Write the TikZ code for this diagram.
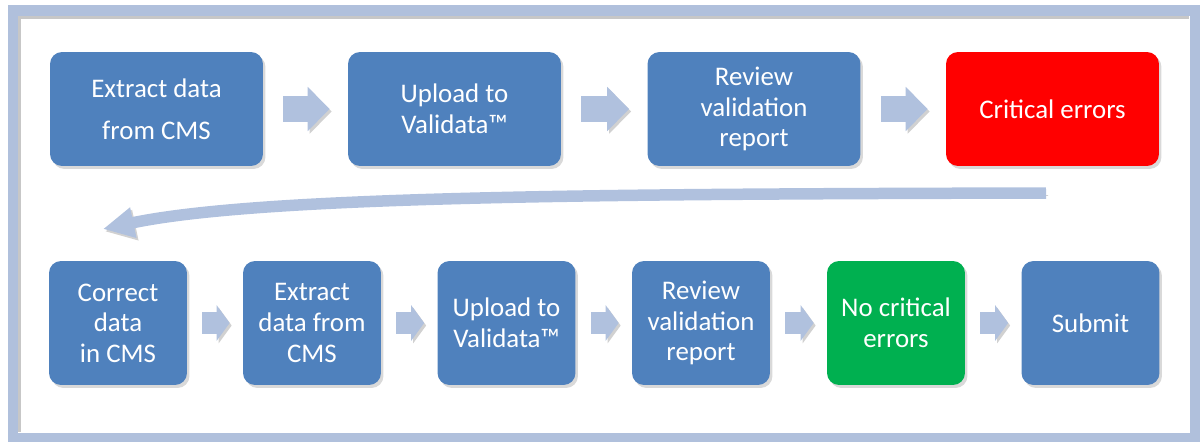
\documentclass[tikz,border=0pt]{standalone}
\usepackage{fontspec}
\setmainfont{Carlito}
\usetikzlibrary{arrows.meta,shadows}
\definecolor{boxblue}{HTML}{4F81BD}
\definecolor{critred}{HTML}{FF0000}
\definecolor{okgreen}{HTML}{00B050}
\definecolor{arrowblue}{HTML}{B0C1DE}
\definecolor{framegray}{HTML}{B0C0DC}

\begin{document}
\begin{tikzpicture}[x=0.02cm,y=-0.02cm]
	\tikzstyle{stepbox} = [fill=boxblue, rounded corners=0.24cm, text=white, align=center,
		font=\fontsize{15.3}{17.4}\selectfont, inner sep=0pt,
		drop shadow={shadow xshift=0.05cm, shadow yshift=-0.06cm, opacity=0.3}]
	\tikzstyle{widebox} = [stepbox, minimum width=4.26cm, minimum height=2.28cm]
	\tikzstyle{narrowbox} = [stepbox, minimum width=2.76cm, minimum height=2.48cm]
	\tikzstyle{arrowshade} = [preaction={draw=black!18, transform canvas={shift={(0.04cm,-0.05cm)}}}]
	\tikzstyle{bigarrow} = [arrowshade, draw=arrowblue, line width=0.52cm,
		-{Triangle[width=0.86cm,length=0.44cm]}, shorten <=0.4cm, shorten >=0.36cm]
	\tikzstyle{smallarrow} = [arrowshade, draw=arrowblue, line width=0.44cm,
		-{Triangle[width=0.7cm,length=0.26cm]}, shorten <=0.3cm, shorten >=0.26cm]
	\tikzstyle{bendarrow} = [arrowshade, draw=arrowblue, line width=0.23cm,
		-{Triangle[width=0.58cm,length=0.62cm]}]
	\useasboundingbox (0,0) rectangle (1201,441);
	\draw[framegray, line width=0.21cm] (13,10.5) rectangle (1195,438);
	\draw[black!22, line width=0.05cm] (19.5,16) -- (19.5,432);
	\draw[black!22, line width=0.05cm] (18,17.5) -- (1189,17.5);
		\node[widebox] (b1) at (156.5,109) {Extract data\\[0.23cm]from CMS};
		\node[widebox] (b2) at (454.5,109) {Upload to\\Validata™};
		\node[widebox] (b3) at (754,109)   {Review\\validation\\report};
		\node[widebox, fill=critred] (b4) at (1052.5,109) {Critical errors};
		\node[narrowbox] (c1) at (118,323)    {Correct\\data\\in CMS};
		\node[narrowbox] (c2) at (312,323)    {Extract\\data from\\CMS};
		\node[narrowbox] (c3) at (506.5,323)  {Upload to\\Validata™};
		\node[narrowbox] (c4) at (701,323)    {Review\\validation\\report};
		\node[narrowbox, fill=okgreen] (c5) at (896,323) {No critical\\errors};
		\node[narrowbox] (c6) at (1090.5,323) {Submit};
		\coordinate (bendstart) at (1046,193);
		\coordinate (bendend) at (103,229);
	\draw[bigarrow] (b1) -- (b2);
	\draw[bigarrow] (b2) -- (b3);
	\draw[bigarrow] (b3) -- (b4);
	\draw[bendarrow] (bendstart) .. controls (600,194) and (260,196) .. (bendend);
	\draw[smallarrow] (c1) -- (c2);
	\draw[smallarrow] (c2) -- (c3);
	\draw[smallarrow] (c3) -- (c4);
	\draw[smallarrow] (c4) -- (c5);
	\draw[smallarrow] (c5) -- (c6);
\end{tikzpicture}
\end{document}
